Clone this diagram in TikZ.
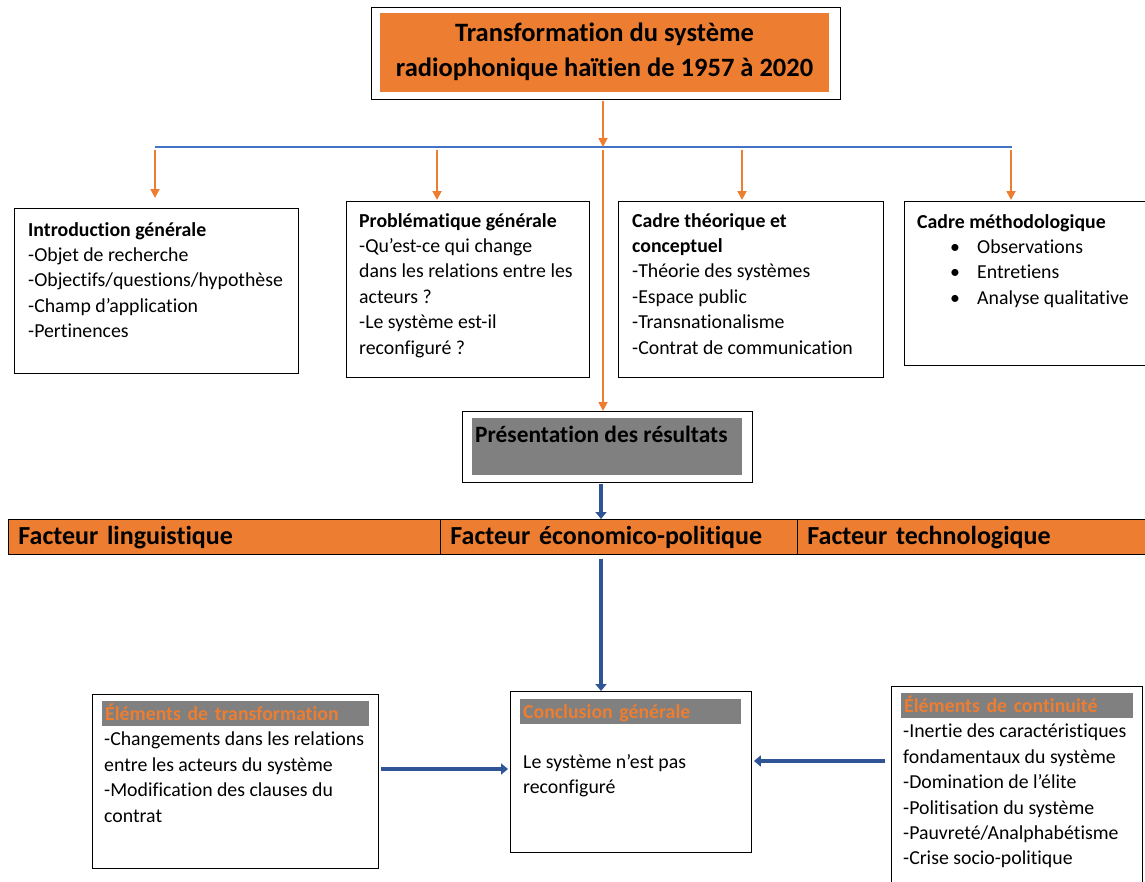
\documentclass[tikz,border=0pt]{standalone}
\usepackage{fontspec}
\setmainfont{Carlito}[Ligatures={NoCommon}]
\usetikzlibrary{arrows.meta,calc}

\definecolor{orangefill}{HTML}{ED7D31}
\definecolor{barblue}{HTML}{4472C4}
\definecolor{arrowblue}{HTML}{2F5597}
\definecolor{headgray}{HTML}{808080}

\tikzset{
  box/.style={draw=black, line width=0.9pt, fill=white, anchor=north west, inner sep=0pt},
  bodytext/.style={anchor=north west, align=left, inner sep=0pt, font=\fontsize{19.8}{25.4}\selectfont},
  headbar/.style={fill=headgray, text=orangefill, anchor=north west, inner xsep=3pt, inner ysep=0pt,
    minimum height=25pt, text height=15.5pt, text depth=2.5pt, align=left, font=\bfseries\fontsize{19.8}{22}\selectfont},
  factor/.style={draw=black, fill=orangefill, line width=0.9pt, anchor=north west, inner xsep=10pt,
    minimum height=35pt, text height=20pt, text depth=5pt, align=left, font=\bfseries\fontsize{26}{28}\selectfont},
  orangearrow/.style={draw=orangefill, line width=1.8pt, -{Triangle[length=9pt,width=9pt]}},
  bluearrow/.style={draw=arrowblue, line width=3.5pt, -{Triangle[length=7pt,width=11pt]}},
  barline/.style={draw=barblue, line width=2.5pt},
}

\begin{document}
\begin{tikzpicture}[x=1pt,y=-1pt]
  \clip (0,0) rectangle (1145,881);

  % title at the top
  \node[box, minimum width=469pt, minimum height=92pt] (title) at (371,7) {};
  \node[fill=orangefill, anchor=north west, inner sep=0pt, minimum width=449pt, minimum height=79pt] (title-in) at (380,13) {};
  \node[align=center, inner sep=0pt, font=\bfseries\fontsize{26.5}{35}\selectfont] (title-txt) at (604.5,51.5) {Transformation du système\\radiophonique haïtien de 1957 à 2020};

  % the blue bar and its branches
  \coordinate (bar-w) at (155,147);
  \coordinate (bar-e) at (1012,147);
  \coordinate (bar-m) at (603,147);
  \draw[barline] (bar-w) -- (bar-e);
  \draw[orangearrow, shorten <=1pt] (title.south -| bar-m) -- (bar-m);

  % the four boxes under the bar
  \node[box, minimum width=284pt, minimum height=165pt] (intro) at (14,208) {};
  \node[box, minimum width=243pt, minimum height=176pt] (prob) at (346,201) {};
  \node[box, minimum width=265pt, minimum height=176pt] (cadre) at (618,201) {};
  \node[box, minimum width=245pt, minimum height=164pt] (methodo) at (904,201) {};

  \node[bodytext] (intro-txt) at ($(intro.north west)+(14,14)$)
    {\textbf{Introduction générale}\\-Objet de recherche\\-Objectifs/questions/hypothèse\\-Champ d’application\\-Pertinences};
  \node[bodytext] (prob-txt) at ($(prob.north west)+(13,12)$)
    {\textbf{Problématique générale}\\-Qu’est-ce qui change\\dans les relations entre les\\acteurs ?\\-Le système est-il\\reconfiguré ?};
  \node[bodytext] (cadre-txt) at ($(cadre.north west)+(14,12)$)
    {\textbf{Cadre théorique et}\\\textbf{conceptuel}\\-Théorie des systèmes\\-Espace public\\-Transnationalisme\\-Contrat de communication};
  \node[bodytext] (methodo-txt) at ($(methodo.north west)+(13,13)$)
    {\textbf{Cadre méthodologique}\\
     \hspace*{33pt}\makebox[27pt][l]{\textbullet}Observations\\
     \hspace*{33pt}\makebox[27pt][l]{\textbullet}Entretiens\\
     \hspace*{33pt}\makebox[27pt][l]{\textbullet}Analyse qualitative};

  \coordinate (t1) at (155,150);
  \coordinate (t2) at (437,150);
  \coordinate (t3) at (742,150);
  \coordinate (t4) at (1011,150);
  \draw[orangearrow, shorten >=10pt] (t1) -- (t1 |- intro.north);
  \draw[orangearrow, shorten >=1pt] (t2) -- (t2 |- prob.north);
  \draw[orangearrow, shorten >=1pt] (t3) -- (t3 |- cadre.north);
  \draw[orangearrow, shorten >=1pt] (t4) -- (t4 |- methodo.north);

  % results
  \node[box, minimum width=290pt, minimum height=71pt] (pres) at (462,411) {};
  \node[fill=headgray, anchor=north west, inner sep=0pt, minimum width=270pt, minimum height=57pt] (pres-in) at (472,418) {};
  \node[anchor=north west, inner sep=0pt, font=\bfseries\fontsize{23.4}{26}\selectfont] (pres-txt) at (475,426) {Présentation des résultats};
  \draw[orangearrow] ($(bar-m)+(0,3)$) -- (bar-m |- pres.north);

  % the three factors
  \node[factor, text width=412pt] (fl) at (8,519) {Facteur linguistique};
  \node[factor, text width=337pt] (fe) at (440,519) {Facteur économico-politique};
  \node[factor, text width=330pt] (ft) at (797,519) {Facteur technologique};

  \coordinate (bx) at (601,0);
  \draw[bluearrow, shorten <=1pt] (pres.south -| bx) -- (fe.north -| bx);

  % bottom row
  \node[box, minimum width=286pt, minimum height=174pt] (trans) at (92,694) {};
  \node[box, minimum width=241pt, minimum height=161pt] (concl) at (510,691) {};
  \node[box, minimum width=251pt, minimum height=210pt] (cont) at (891,686) {};

  \node[headbar, text width=261pt] (trans-head) at (102,701) {Éléments de transformation};
  \node[headbar, text width=215pt] (concl-head) at (520,699) {Conclusion générale};
  \node[headbar, text width=226pt] (cont-head) at (901,693) {Éléments de continuité};

  \node[bodytext] (trans-txt) at ($(trans.north west)+(12,38)$)
    {-Changements dans les relations\\entre les acteurs du système\\-Modification des clauses du\\contrat};
  \node[bodytext] (concl-txt) at ($(concl.north west)+(13,63)$)
    {Le système n’est pas\\reconfiguré};
  \node[bodytext] (cont-txt) at ($(cont.north west)+(12,38)$)
    {-Inertie des caractéristiques\\fondamentaux du système\\-Domination de l’élite\\-Politisation du système\\-Pauvreté/Analphabétisme\\-Crise socio-politique};

  \draw[bluearrow, shorten <=4pt] (fe.south -| bx) -- (concl.north -| bx);

  \coordinate (ly) at (0,769);
  \coordinate (ry) at (0,761);
  \draw[bluearrow, shorten <=2pt, shorten >=2pt] (trans.east |- ly) -- (concl.west |- ly);
  \draw[bluearrow, shorten <=6pt, shorten >=2pt] (cont.west |- ry) -- (concl.east |- ry);
\end{tikzpicture}
\end{document}
